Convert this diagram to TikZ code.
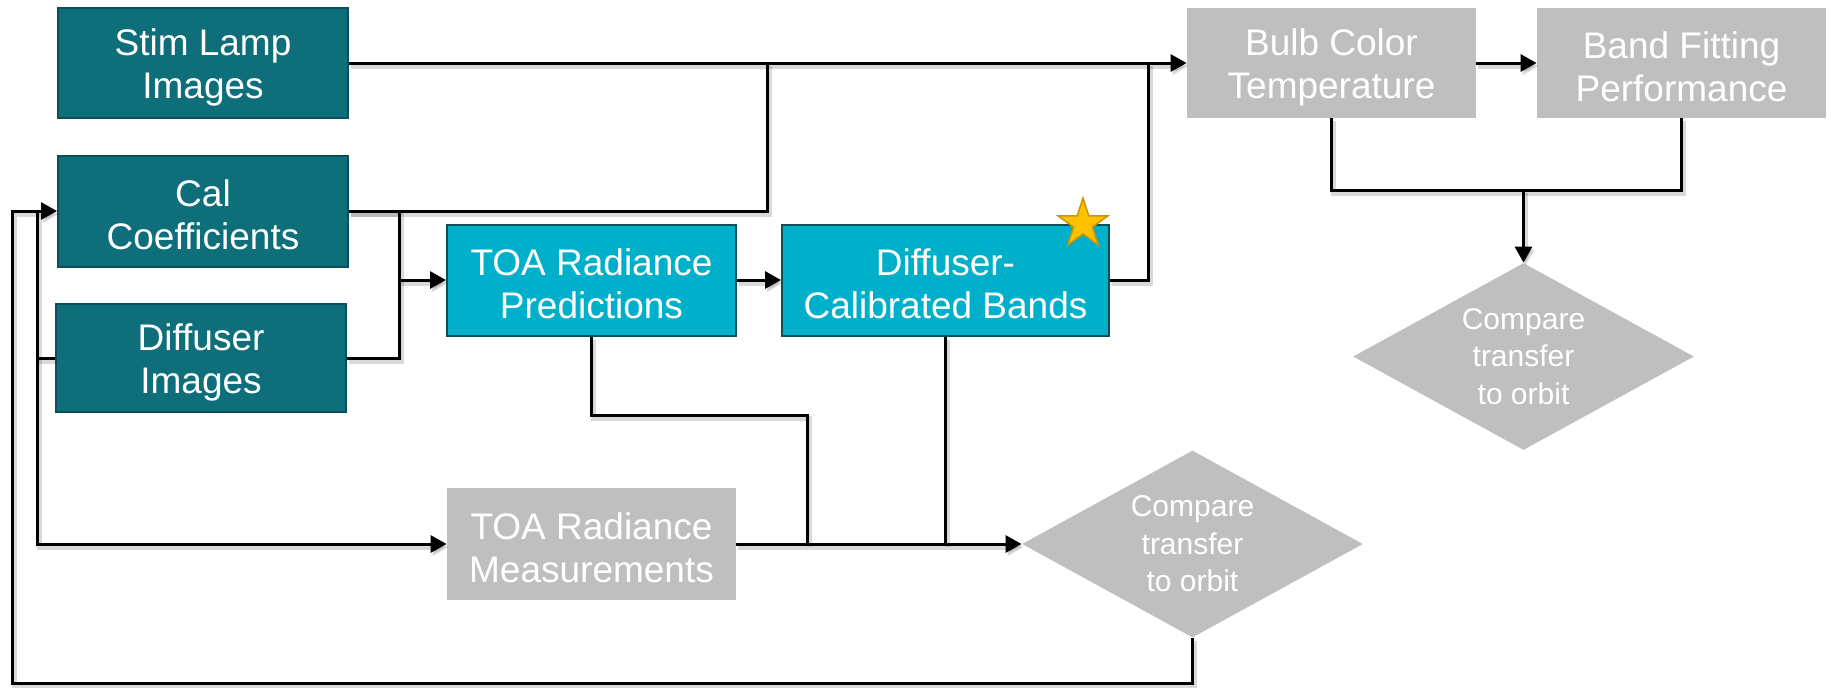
\documentclass[tikz,border=0pt]{standalone}
\usepackage{fontspec}
\setmainfont{Liberation Sans}
\usetikzlibrary{arrows.meta,shapes.geometric}
\definecolor{teal1}{RGB}{14,111,123}
\definecolor{teal1b}{RGB}{10,80,90}
\definecolor{cyan1}{RGB}{0,176,202}
\definecolor{gray1}{RGB}{191,191,191}
\definecolor{gold1}{RGB}{255,192,0}
\definecolor{gold1b}{RGB}{200,150,0}
\newcommand\tup{\rule{0pt}{17.5pt}}
\begin{document}
\begin{tikzpicture}[x=0.5pt,y=-0.5pt,
  box/.style={rectangle, inner sep=0pt, align=center, text=white,
    font=\fontsize{18.5pt}{21.5pt}\selectfont},
  darkbox/.style={box, fill=teal1, draw=teal1b, line width=1pt},
  cyanbox/.style={box, fill=cyan1, draw=teal1b, line width=1pt},
  graybox/.style={box, fill=gray1},
  dia/.style={diamond, aspect=1.82, fill=gray1, inner sep=0pt, align=center, text=white,
    font=\fontsize{15pt}{18.75pt}\selectfont,
    minimum width=170.5pt, minimum height=93.5pt},
  conn/.style={line width=1.5pt, line join=miter,
    preaction={draw=black, opacity=0.15, line width=2.5pt,
      transform canvas={shift={(1pt,-1.5pt)}}}},
  arr/.style={conn, -{Triangle[length=8pt,width=8.5pt]}}
]
\useasboundingbox (0,0) rectangle (1831,687);

% boxes
\node[darkbox, minimum width=145pt, minimum height=55pt] (stim) at (203,63) {\tup Stim Lamp\\Images};
\node[darkbox, minimum width=145pt, minimum height=55.5pt] (cal) at (203,211) {\tup Cal\\Coefficients};
\node[darkbox, minimum width=145pt, minimum height=54pt] (diff) at (201,358) {\tup Diffuser\\Images};
\node[cyanbox, minimum width=144.5pt, minimum height=55.5pt] (pred) at (591.5,280) {\tup TOA Radiance\\Predictions};
\node[cyanbox, minimum width=163.5pt, minimum height=55.5pt] (bands) at (945.5,280) {\tup Diffuser-\\Calibrated Bands};
\node[graybox, minimum width=144.5pt, minimum height=55pt] (bulb) at (1331.5,63) {\tup Bulb Color\\Temperature};
\node[graybox, minimum width=144.5pt, minimum height=55pt] (fit) at (1681.5,63) {\tup Band Fitting\\Performance};
\node[graybox, minimum width=144.5pt, minimum height=56pt] (meas) at (591.5,544) {\tup TOA Radiance\\Measurements};
\node[dia] (cmp1) at (1523.5,356.5) {Compare\\transfer\\to orbit};
\node[dia] (cmp2) at (1192.5,544) {Compare\\transfer\\to orbit};
\node[star, star points=5, star point ratio=2.618, fill=gold1, draw=gold1b,
  line width=0.75pt, minimum size=26pt, inner sep=0pt] (star) at (1083,224) {};

% junction coordinates
\coordinate (jA) at (767,63);
\coordinate (jB) at (399,280);
\coordinate (jC) at (1148,63);
\coordinate (jD) at (1523.5,190);
\coordinate (jE) at (807,544);
\coordinate (jE2) at (807,415);
\coordinate (jF) at (12,683);
\coordinate (jG) at (37,358);
\coordinate (jH) at (37,211);

% connectors
\draw[arr] (stim.east) -- (bulb.west);
\draw[conn] (cal.east) -| (jA);
\draw[conn] (cal.east) -| (jB);
\draw[conn] (diff.east) -| (jB);
\draw[arr] (jB) -- (pred.west);
\draw[arr] (pred.east) -- (bands.west);
\draw[conn] (bands.east) -| (jC);
\draw[arr] (bulb.east) -- (fit.west);
\draw[conn] (bulb.south) |- (jD) -| (fit.south);
\draw[arr] (jD) -- (cmp1.north);
\draw[conn] (pred.south) |- (jE2) -- (jE);
\draw[conn] (bands.south) -- (bands.south |- jE);
\draw[arr] (meas.east) -- (cmp2.west);
\draw[arr] (cmp2.south) |- (jF) |- (cal.west);
\draw[conn] (diff.west) -- (jG);
\draw[arr] (jH) |- (meas.west);
\end{tikzpicture}
\end{document}
